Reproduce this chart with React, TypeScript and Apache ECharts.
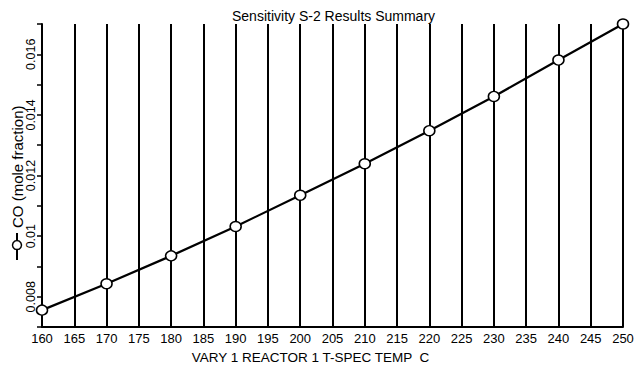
import React, { useEffect, useRef } from "react";
import * as echarts from "echarts";

const temps = [160, 170, 180, 190, 200, 210, 220, 230, 240, 250];
const coValues = [0.00756, 0.00843, 0.00935, 0.01032, 0.01135, 0.01239, 0.01348, 0.01461, 0.01581, 0.017];
const yLabelValues = [0.008, 0.01, 0.012, 0.014, 0.016];
const titleText = "Sensitivity S-2 Results Summary";
const xName = "VARY 1 REACTOR 1 T-SPEC TEMP  C";
const yName = "CO (mole fraction)";

const FONT = "'Liberation Sans', Arial, sans-serif";

export default function App() {
  const ref = useRef<HTMLDivElement>(null);
  useEffect(() => {
    if (!ref.current) return;
    const chart = echarts.init(ref.current, undefined, { renderer: "svg" });
    const nameGroup = {
      type: "group",
      x: 17,
      y: 260,
      rotation: Math.PI / 2,
      children: [
        { type: "line", shape: { x1: 0, y1: 0, x2: 27, y2: 0 }, style: { stroke: "#000", lineWidth: 2 } },
        { type: "circle", shape: { cx: 15, cy: 0, r: 4.5 }, style: { fill: "#fff", stroke: "#000", lineWidth: 1.5 } },
        {
          type: "text",
          x: 32,
          y: 0,
          style: {
            text: yName,
            font: `15px ${FONT}`,
            fill: "#000",
            textAlign: "left",
            textVerticalAlign: "middle",
          },
        },
      ],
    };
    chart.setOption({
      animation: false,
      backgroundColor: "#ffffff",
      title: {
        text: titleText,
        left: 227,
        top: 4,
        textStyle: { fontFamily: FONT, fontSize: 14, fontWeight: "normal", color: "#000" },
      },
      grid: { left: 42, right: 14, top: 24, bottom: 37, containLabel: false },
      xAxis: {
        type: "value",
        min: 160,
        max: 250,
        interval: 5,
        name: xName,
        nameLocation: "middle",
        nameGap: 19,
        nameTextStyle: { fontFamily: FONT, fontSize: 13.5, color: "#000", padding: [0, 44, 0, 0] },
        axisLine: { show: true, lineStyle: { color: "#000", width: 2 } },
        axisTick: { show: false },
        axisLabel: { fontFamily: FONT, fontSize: 13, color: "#000", margin: 5 },
        splitLine: { show: true, lineStyle: { color: "#000", width: 2 } },
      },
      yAxis: {
        type: "value",
        min: 0.007,
        max: 0.017,
        interval: 0.001,
        axisLine: { show: true, lineStyle: { color: "#000", width: 2 } },
        axisTick: { show: true, length: 5, lineStyle: { color: "#000", width: 1.5 } },
        splitLine: { show: false },
        axisLabel: { show: false },
      },
      graphic: [nameGroup],
      series: [
        {
          type: "line",
          data: temps.map((t, i) => [t, coValues[i]]),
          clip: false,
          lineStyle: { color: "#000", width: 2.2 },
          symbol: "circle",
          symbolSize: [11, 10],
          itemStyle: { color: "#fff", borderColor: "#000", borderWidth: 1.5 },
        },
      ],
    });
    const labelEls = yLabelValues.map((v) => {
      const py = chart.convertToPixel({ yAxisIndex: 0 }, v) as number;
      return {
        type: "text",
        x: 37,
        y: py,
        rotation: Math.PI / 2,
        style: {
          text: String(v),
          font: `12.5px ${FONT}`,
          fill: "#000",
          textAlign: "center",
          textVerticalAlign: "bottom",
        },
      };
    });
    chart.setOption({ graphic: [nameGroup, ...labelEls] }, { replaceMerge: ["graphic"] });
    return () => chart.dispose();
  }, []);
  return <div ref={ref} style={{ position: "fixed", left: 0, top: 0, width: 637, height: 369 }} />;
}
